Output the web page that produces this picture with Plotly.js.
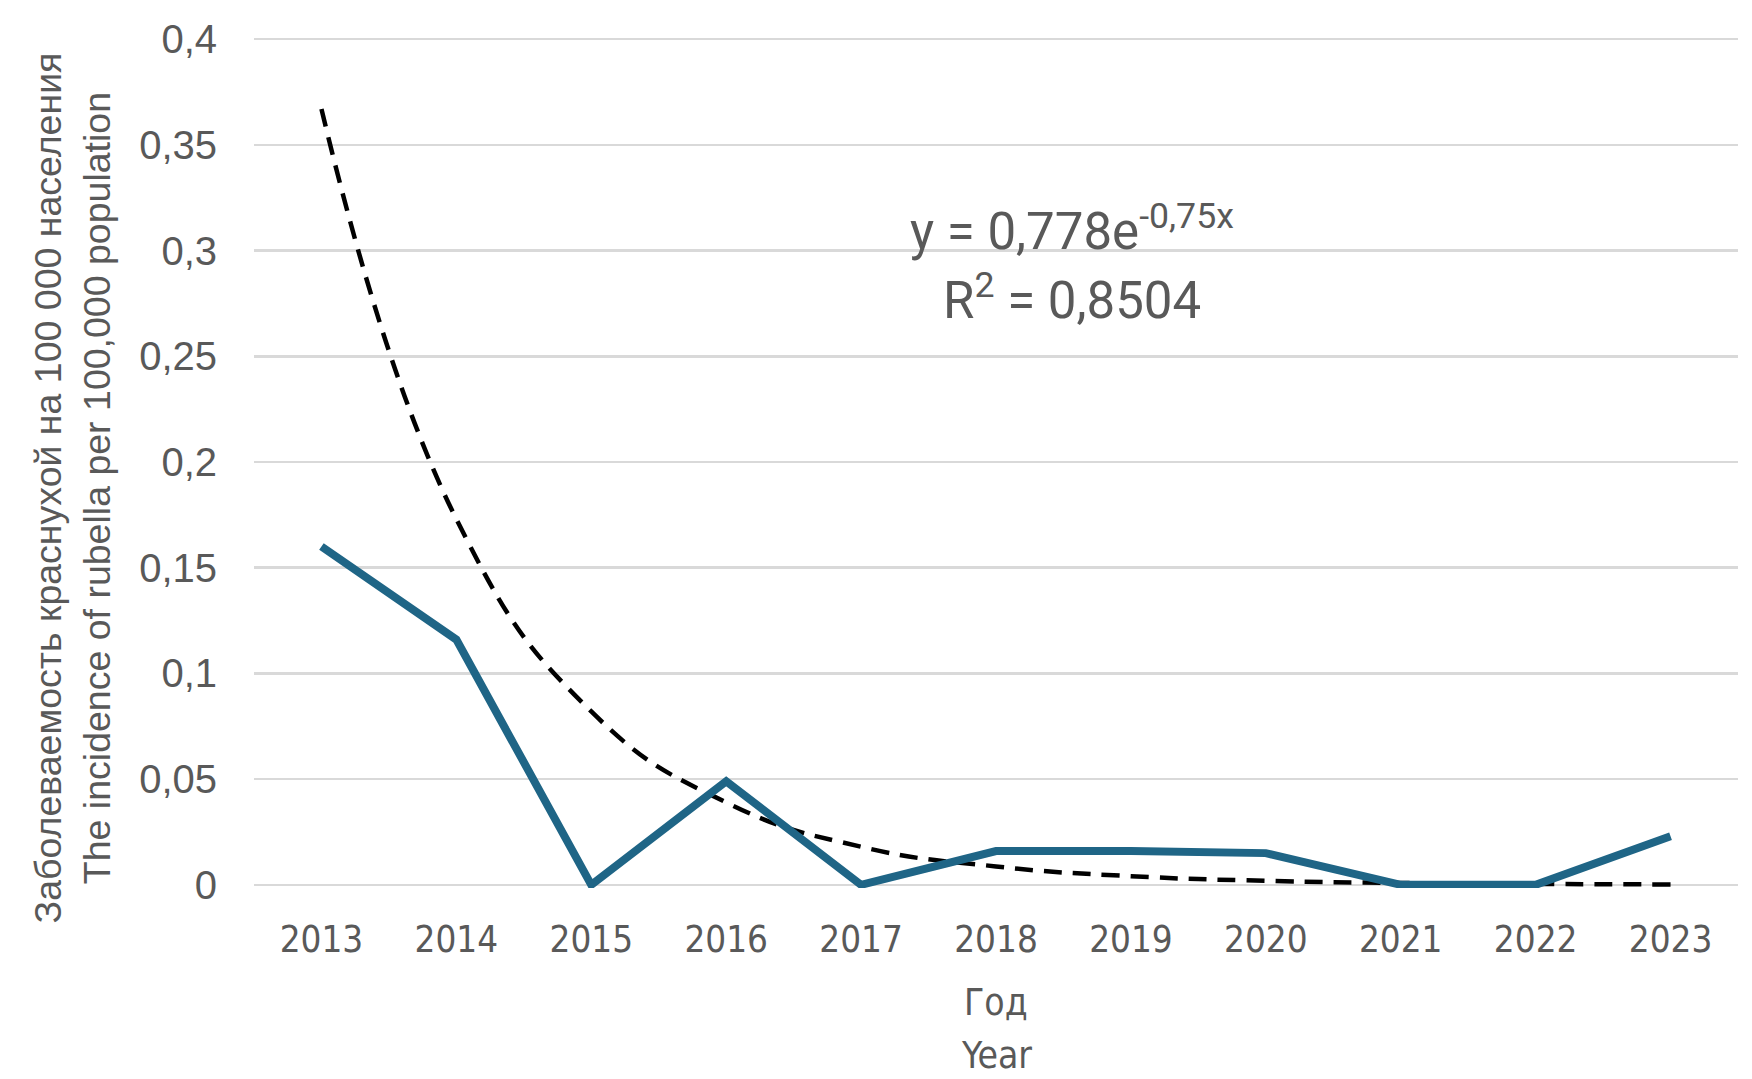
<!DOCTYPE html>
<html>
<head>
<meta charset="utf-8">
<script src="https://cdn.plot.ly/plotly-3.0.1.min.js"></script>
<style>html,body{margin:0;padding:0;background:#fff;}#chart{width:1752px;height:1079px;}</style>
</head>
<body>
<div id="chart"></div>
<script>
const years = ['2013','2014','2015','2016','2017','2018','2019','2020','2021','2022','2023'];
const incidence = [0.160, 0.116, 0.000, 0.049, 0.000, 0.016, 0.016, 0.015, 0.000, 0.000, 0.023];
const trendValues = [0.367, 0.173, 0.082, 0.039, 0.018, 0.0087, 0.0041, 0.0019, 0.0009, 0.0004, 0.0002];
const yTickVals = [0, 0.05, 0.1, 0.15, 0.2, 0.25, 0.3, 0.35, 0.4];
const yTickText = ['0', '0,05', '0,1', '0,15', '0,2', '0,25', '0,3', '0,35', '0,4'];
const yTitle = 'Заболеваемость краснухой на 100 000 населения<br>The incidence of rubella per 100,000 population';
const eqText = 'y = 0,778e<sup>-0,75x</sup>';
const r2Text = 'R<sup>2</sup> = 0,8504';

const grey = '#595959';
const narrow = 'Liberation Sans Narrow, DejaVu Sans Condensed, Arial Narrow, sans-serif';
const traces = [
  {x: years, y: trendValues, type: 'scatter', mode: 'lines',
   line: {color: '#000000', width: 4.5, dash: '18px,11px', shape: 'spline', smoothing: 1.3},
   hoverinfo: 'skip', showlegend: false},
  {x: years, y: incidence, type: 'scatter', mode: 'lines',
   line: {color: '#1F6586', width: 8}, showlegend: false}
];
const layout = {
  width: 1752, height: 1079,
  margin: {l: 254, r: 14, t: 36, b: 191},
  paper_bgcolor: '#ffffff', plot_bgcolor: '#ffffff',
  showlegend: false,
  xaxis: {type: 'category', range: [-0.5, 10.5], showgrid: false, zeroline: false,
    showline: false, ticks: '', ticklabelstandoff: 26,
    tickfont: {family: narrow, size: 36.5, color: grey}},
  yaxis: {range: [-0.0015, 0.4015], tickvals: yTickVals, ticktext: yTickText,
    showgrid: true, gridcolor: '#d9d9d9', gridwidth: 2.5, zeroline: false, showline: false,
    ticks: '', ticklabelstandoff: 36,
    tickfont: {family: 'Liberation Sans, Arial, sans-serif', size: 40, color: grey}},
  annotations: [
    {text: eqText, xref: 'paper', yref: 'paper', x: 0.551, y: 0.775, showarrow: false,
     xanchor: 'center', yanchor: 'middle', font: {family: 'Roboto, sans-serif', size: 51, color: grey}},
    {text: r2Text, xref: 'paper', yref: 'paper', x: 0.551, y: 0.694, showarrow: false,
     xanchor: 'center', yanchor: 'middle', font: {family: 'Roboto, sans-serif', size: 51, color: grey}},
    {text: 'Год', xref: 'paper', yref: 'paper', x: 0.5, y: -0.134, showarrow: false,
     xanchor: 'center', yanchor: 'middle', font: {family: narrow, size: 37, color: grey}},
    {text: 'Year', xref: 'paper', yref: 'paper', x: 0.5, y: -0.197, showarrow: false,
     xanchor: 'center', yanchor: 'middle', font: {family: narrow, size: 37, color: grey}},
    {text: yTitle, xref: 'paper', yref: 'paper', x: -0.122, y: 0.47, showarrow: false, textangle: -90,
     xanchor: 'center', yanchor: 'middle', font: {family: 'Liberation Sans, Arial, sans-serif', size: 37.5, color: grey}}
  ]
};
Plotly.newPlot('chart', traces, layout, {displayModeBar: false, staticPlot: true});
</script>
</body>
</html>
